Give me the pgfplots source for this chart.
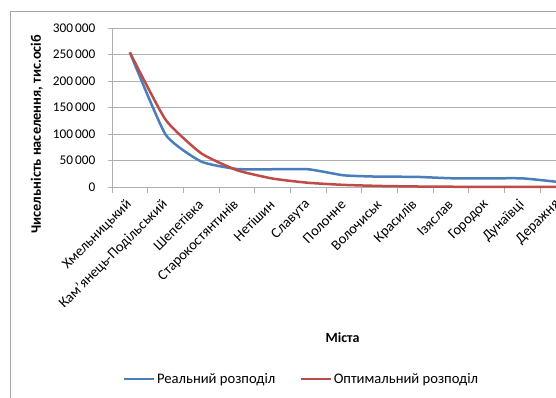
\documentclass[border=0pt]{standalone}
\usepackage{pgfplots}
\pgfplotsset{compat=1.18}
\usepackage{fontspec}
\setmainfont{Carlito}
\definecolor{realblue}{HTML}{4A7EBB}
\definecolor{optred}{HTML}{BE4B48}
\definecolor{gridgray}{HTML}{B0B0B0}
\definecolor{framegray}{HTML}{A6A6A6}
\begin{document}
\begin{tikzpicture}
\path[use as bounding box] (0pt,0pt) rectangle (556pt,397pt);
\begin{scope}[overlay]
\clip (0pt,0pt) rectangle (556pt,397pt);
\draw[framegray, line width=1pt] (10.5pt,-5pt) -- (10.5pt,385.5pt) -- (600pt,385.5pt);
\begin{axis}[
  at={(112pt,210pt)}, anchor=south west,
  scale only axis, width=464pt, height=159pt,
  xmin=-0.5, xmax=12.5, ymin=0, ymax=300000,
  clip=false,
  xtick={0,...,12},
  xticklabels={Хмельницький,Кам'янець-Подільський,Шепетівка,Старокостянтинів,Нетішин,Славута,Полонне,Волочиськ,Красилів,Ізяслав,Городок,Дунаївці,Деражня},
  minor xtick={-0.5,0.5,...,12.5},
  ytick={0,50000,100000,150000,200000,250000,300000},
  scaled y ticks=false,
  /pgf/number format/assume math mode=true,
  /pgf/number format/fixed,
  /pgf/number format/1000 sep={\,},
  ymajorgrids,
  major grid style={gridgray, line width=1pt},
  axis x line*=bottom, axis y line*=left,
  y axis line style={gridgray, line width=1pt},
  x axis line style={gridgray, line width=1pt},
  tick align=outside,
  major x tick style={draw=none},
  minor x tick style={gridgray, line width=1pt},
  major y tick style={gridgray, line width=1pt},
  major tick length=4pt, minor tick length=6pt,
  tick label style={text=black},
  yticklabel style={font=\fontsize{13.3}{15}\selectfont, xshift=-9pt},
  xticklabel style={font=\fontsize{14.5}{16}\selectfont, yshift=-9pt, xshift=2pt, rotate=45, anchor=east},
  xlabel={\bfseries Міста},
  xlabel style={at={(axis description cs:0.497,-0.95)}, anchor=center, font=\fontsize{14}{16}\selectfont},
  ylabel={\bfseries Чисельність населення, тис.осіб},
  ylabel style={at={(axis description cs:-0.162,0.333)}, anchor=center, font=\fontsize{14.4}{16}\selectfont},
  legend style={at={(axis description cs:0.408,-1.208)}, anchor=center, draw=none, fill=none,
    legend columns=2, font=\fontsize{14.6}{16}\selectfont,
    /tikz/every even column/.append style={column sep=22pt}},
  legend cell align=left,
  legend image code/.code={\draw[#1] (0pt,0pt) -- (30pt,0pt);},
]
\addplot[realblue, line width=2.5pt, smooth, tension=0.3] coordinates {
(0,254000) (1,99000) (2,48000) (3,34000) (4,33500) (5,33500) (6,22000) (7,19500) (8,19200) (9,16500) (10,16300) (11,16300) (12,9500)};
\addlegendentry{Реальний розподіл}
\addplot[optred, line width=2.5pt, smooth, tension=0.3] coordinates {
(0,254000) (1,127000) (2,63500) (3,31750) (4,15875) (5,7938) (6,3969) (7,1984) (8,992) (9,496) (10,248) (11,124) (12,62)};
\addlegendentry{Оптимальний розподіл}
\end{axis}
\end{scope}
\end{tikzpicture}
\end{document}
